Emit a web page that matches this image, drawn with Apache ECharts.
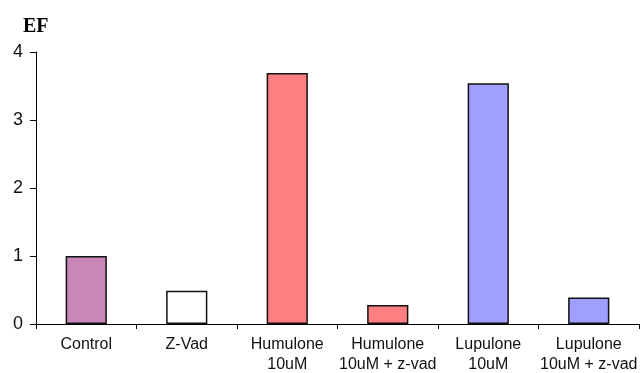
<!DOCTYPE html>
<html>
<head>
<meta charset="utf-8">
<script src="https://cdn.jsdelivr.net/npm/echarts@6/dist/echarts.min.js"></script>
<style>
  html, body { margin: 0; padding: 0; background: #fff; }
  #chart { width: 642px; height: 373px; }
</style>
</head>
<body>
<div id="chart"></div>
<script>
const categories = ['Control', 'Z-Vad', 'Humulone\n10uM', 'Humulone\n10uM + z-vad', 'Lupulone\n10uM', 'Lupulone\n10uM + z-vad']
const values = [1.0, 0.49, 3.69, 0.28, 3.54, 0.39]
const barColors = ['#c986b8', '#ffffff', '#ff7f80', '#ff7f80', '#9f9fff', '#9f9fff']
const yTicks = [0, 1, 2, 3, 4]

const chart = echarts.init(document.getElementById('chart'))
const option = {
  animation: false,
  title: {
    text: 'EF',
    left: 18,
    top: 12,
    textStyle: { fontFamily: 'Liberation Serif', fontWeight: 'bold', fontSize: 20, color: '#000' }
  },
  grid: { left: 36, right: 3, top: 52, bottom: 49, outerBoundsMode: 'none' },
  xAxis: {
    type: 'category',
    data: categories,
    axisLine: { lineStyle: { color: '#000', width: 1 } },
    axisTick: { show: true, length: 5, lineStyle: { color: '#000' } },
    axisLabel: {
      color: '#111',
      fontFamily: 'Liberation Sans',
      fontSize: 16,
      lineHeight: 20,
      margin: 11,
      interval: 0
    }
  },
  yAxis: {
    type: 'value',
    min: yTicks[0],
    max: yTicks[yTicks.length - 1],
    interval: 1,
    splitLine: { show: false },
    axisLine: { show: true, lineStyle: { color: '#000', width: 1 } },
    axisTick: { show: true, length: 6, lineStyle: { color: '#000' } },
    axisLabel: { color: '#111', fontFamily: 'Liberation Sans', fontSize: 18, margin: 13 }
  },
  series: [{
    type: 'bar',
    barWidth: '41%',
    data: values.map((v, i) => ({
      value: v,
      itemStyle: { color: barColors[i], borderColor: '#111', borderWidth: 1.5 }
    }))
  }]
}
chart.setOption(option)
</script>
</body>
</html>
